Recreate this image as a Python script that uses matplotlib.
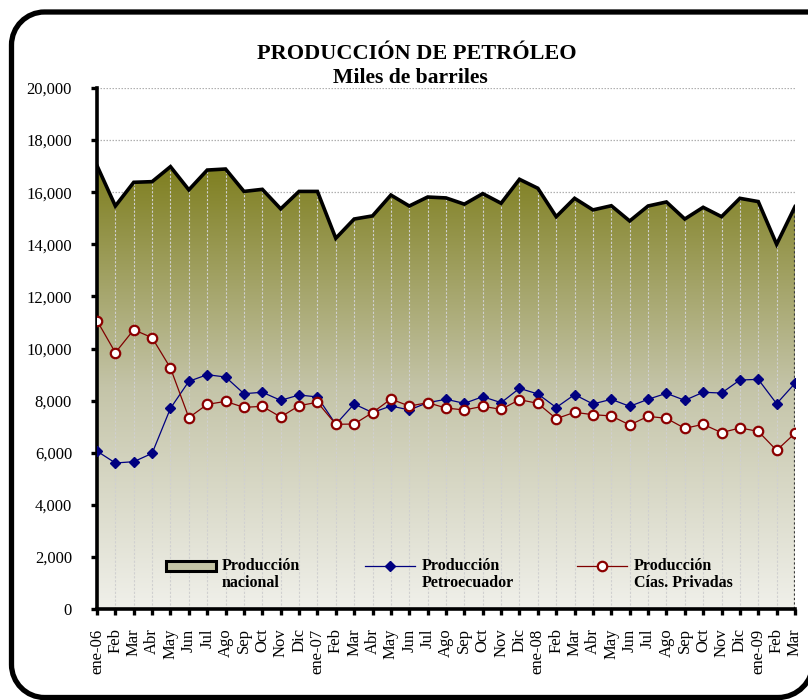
import numpy as np
import matplotlib
matplotlib.use('Agg')
import matplotlib.pyplot as plt
from matplotlib.patches import PathPatch, Rectangle
from matplotlib.path import Path
from matplotlib.lines import Line2D
from matplotlib.colors import LinearSegmentedColormap
from matplotlib.transforms import IdentityTransform

plt.rcParams['font.family'] = ['Liberation Serif', 'DejaVu Serif']

# meses ene-06 .. mar-09
meses = ['ene-06', 'Feb', 'Mar', 'Abr', 'May', 'Jun', 'Jul', 'Ago', 'Sep', 'Oct', 'Nov', 'Dic',
         'ene-07', 'Feb', 'Mar', 'Abr', 'May', 'Jun', 'Jul', 'Ago', 'Sep', 'Oct', 'Nov', 'Dic',
         'ene-08', 'Feb', 'Mar', 'Abr', 'May', 'Jun', 'Jul', 'Ago', 'Sep', 'Oct', 'Nov', 'Dic',
         'ene-09', 'Feb', 'Mar']

nacional = [17020, 15470, 16380, 16405, 16980, 16090, 16850, 16890, 16030, 16110, 15360, 16030,
            16030, 14230, 14970, 15090, 15890, 15470, 15815, 15780, 15540, 15945, 15575, 16495,
            16150, 15060, 15765, 15320, 15480, 14895, 15470, 15625, 14970, 15420, 15060, 15765,
            15640, 14000, 15445]

petroecuador = [6060, 5605, 5655, 5975, 7705, 8740, 8995, 8905, 8265, 8320, 8010, 8215,
                8140, 7090, 7870, 7540, 7795, 7640, 7920, 8050, 7895, 8150, 7920, 8470,
                8255, 7735, 8230, 7870, 8050, 7780, 8050, 8280, 8010, 8320, 8290, 8790,
                8815, 7880, 8665]

privadas = [11070, 9840, 10720, 10415, 9250, 7345, 7855, 7970, 7740, 7780, 7370, 7805,
            7935, 7090, 7100, 7540, 8060, 7790, 7920, 7715, 7640, 7780, 7665, 8035,
            7895, 7305, 7550, 7460, 7410, 7065, 7395, 7320, 6935, 7090, 6770, 6950,
            6820, 6090, 6745]

x = np.arange(len(meses))
nacional = np.array(nacional)

fig = plt.figure(figsize=(8.08, 7.0), dpi=100)
ax = fig.add_axes([97 / 808, 91 / 700, 698 / 808, 521 / 700])

# zona por encima del area, para recortar la rejilla
arriba = ax.fill_between(x, nacional, 21000, color='none', lw=0)
clip_arriba = arriba.get_paths()[0]

# rejilla horizontal punteada
for yv in range(2000, 20001, 2000):
    g = ax.axhline(yv, color='#b0b0b0', lw=0.9, ls=(0, (1.2, 1.2)), zorder=0)
    g.set_clip_path(clip_arriba, transform=ax.transData)

# area con degradado
poly = ax.fill_between(x, 0, nacional, color='none', lw=0, zorder=1)
cmap = LinearSegmentedColormap.from_list('olivo', ['#f0f0ea', '#c4c4a8', '#7e7e1e'])
grad = np.linspace(0, 1, 1024).reshape(-1, 1)
im = ax.imshow(grad, cmap=cmap, origin='lower', aspect='auto', interpolation='bilinear',
               extent=[0, len(x) - 1, 0, nacional.max()], zorder=1)
im.set_clip_path(poly.get_paths()[0], transform=ax.transData)

# lineas de caida
ax.vlines(x[1:-1], 0, nacional[1:-1], colors='#d0d0d0', lw=0.8, linestyles=(0, (2, 1.5)), zorder=2)
ax.vlines(x[-1], 0, nacional[-1], colors='#3a3a3a', lw=1.6, linestyles=(0, (1, 1)), zorder=2)
ax.plot(x, nacional, color='black', lw=2.6, solid_joinstyle='miter', zorder=3)

ax.plot(x, petroecuador, color='#000080', lw=0.9, marker='D', ms=5.5, mfc='#000080',
        mec='#000080', zorder=4)
ax.plot(x, privadas, color='#800000', lw=0.9, marker='o', ms=6.8, mfc='white',
        mec='#8b0000', mew=1.6, zorder=5)

ax.set_xlim(0, len(x) - 1)
ax.set_ylim(0, 20000)
ax.set_yticks(range(0, 20001, 2000))
ax.set_yticklabels(['{:,}'.format(v) for v in range(0, 20001, 2000)], fontsize=12)
ax.set_xticks(x)
ax.set_xticklabels(meses, rotation=90, fontsize=12)
for s in ['top', 'right']:
    ax.spines[s].set_visible(False)
for s in ['left', 'bottom']:
    ax.spines[s].set_linewidth(2.6)
ax.tick_params(axis='both', direction='out', length=4, width=2.4, color='black')
ax.tick_params(axis='y', pad=14)
ax.tick_params(axis='x', pad=10)

# titulo
fig.text(417 / 808, 1 - 54 / 700, 'PRODUCCIÓN DE PETRÓLEO', ha='center', va='center',
         fontsize=16, fontweight='bold')
fig.text(410 / 808, 1 - 78 / 700, 'Miles de barriles', ha='center', va='center',
         fontsize=15.6, fontweight='bold')


# leyenda
def px(xp, yp):
    return xp / 808, 1 - yp / 700


ly = 566
fig.add_artist(Rectangle(px(166, ly + 5), 50 / 808, 10 / 700, transform=fig.transFigure,
                         facecolor='#c4c4a4', edgecolor='black', lw=2.2))
fig.add_artist(Line2D([365 / 808, 415 / 808], [1 - ly / 700] * 2, transform=fig.transFigure,
                      color='#000080', lw=0.9))
fig.add_artist(Line2D([390 / 808], [1 - ly / 700], transform=fig.transFigure, marker='D',
                      ms=5.5, color='#000080'))
fig.add_artist(Line2D([577 / 808, 627 / 808], [1 - ly / 700] * 2, transform=fig.transFigure,
                      color='#800000', lw=0.9))
fig.add_artist(Line2D([602 / 808], [1 - ly / 700], transform=fig.transFigure, marker='o',
                      ms=6.8, mfc='white', mec='#8b0000', mew=1.6))
for xt, txt in [(222, 'Producción\nnacional'), (422, 'Producción\nPetroecuador'),
                (634, 'Producción\nCías. Privadas')]:
    fig.text(*px(xt, ly - 8), txt, ha='left', va='top', fontsize=11.5, fontweight='bold',
             linespacing=1.12)

# marco redondeado (el lado derecho queda fuera de la imagen)
L, B, R, T = 11.5, 2.5, 813.0, 688.0
r1, r2 = 33.0, 35.0
k = 0.5523
verts = [(830, T), (L + r1, T),
         (L + r1 * (1 - k), T), (L, T - r1 * (1 - k)), (L, T - r1),
         (L, B + r1),
         (L, B + r1 * (1 - k)), (L + r1 * (1 - k), B), (L + r1, B),
         (R - r2, B),
         (R - r2 * (1 - k), B), (R, B + r2 * (1 - k)), (R, B + r2),
         (R, 720)]
codes = [Path.MOVETO, Path.LINETO, Path.CURVE4, Path.CURVE4, Path.CURVE4, Path.LINETO,
         Path.CURVE4, Path.CURVE4, Path.CURVE4, Path.LINETO, Path.CURVE4, Path.CURVE4,
         Path.CURVE4, Path.LINETO]
marco = PathPatch(Path(verts, codes), transform=IdentityTransform(), facecolor='none',
                  edgecolor='black', lw=3.8)
fig.add_artist(marco)

fig.savefig('out.png', dpi=100)
